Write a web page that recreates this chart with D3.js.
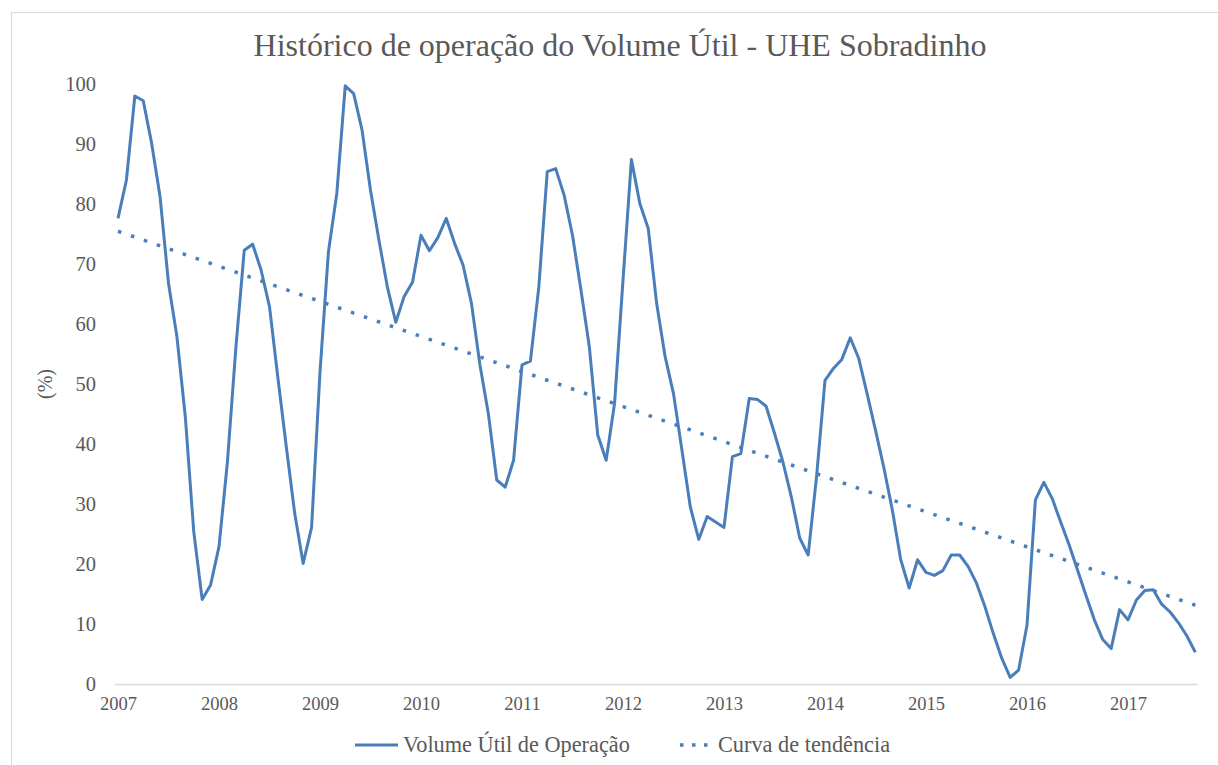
<!DOCTYPE html>
<html>
<head>
<meta charset="utf-8">
<script src="https://cdnjs.cloudflare.com/ajax/libs/d3/7.8.5/d3.min.js"></script>
<style>
body{margin:0;background:#fff;}
</style>
</head>
<body>
<div id="chart"></div>
<script>
// valores mensais jan/2007 .. set/2017 (%)
var startyear=2007;
var volume=[77.6,84,98,97.2,90.1,81.2,66.8,57.9,44.5,25.4,14.1,16.5,
	22.9,37,56,72.3,73.3,69,62.9,51,39.5,28.4,20.1,26.1,
	52,72,81.8,99.7,98.4,92.3,82.3,74,66.2,60.3,64.6,67,
	74.8,72.2,74.4,77.6,73.4,69.8,63.4,53.2,45.1,34,32.8,37.3,
	53.2,53.8,66.2,85.4,85.9,81.5,74.8,65.7,56.2,41.5,37.3,46.8,
	67.3,87.4,80.1,75.9,63.4,54.6,48.4,39,29.5,24.1,27.9,27,
	26.1,37.9,38.4,47.6,47.4,46.3,41.8,37,31.2,24.3,21.5,34.6,
	50.6,52.6,54.1,57.7,54.3,48.4,42.3,36,29,20.7,16,20.7,
	18.6,18.1,18.9,21.5,21.5,19.6,16.8,12.9,8.4,4.3,1.1,2.3,
	9.8,30.7,33.6,30.9,27,23.2,19,14.8,10.7,7.4,5.9,12.4,
	10.7,14,15.6,15.7,13.3,12,10.2,8,5.3];
var yearlabels=["2007","2008","2009","2010","2011","2012","2013","2014","2015","2016","2017"];
var yticks=[0,10,20,30,40,50,60,70,80,90,100];
var legendnames=["Volume Útil de Operação","Curva de tendência"];

var width=1218, height=765;
var linecolor="#4a7ebb";
var axiscolor="#d9d9d9";
var textcolor="#595959";
var fontname="'Liberation Serif','Times New Roman',serif";

var svg=d3.select("#chart").append("svg")
	.attr("width",width)
	.attr("height",height)
	.style("font-family",fontname);

// borda da área do gráfico
svg.append("rect")
	.attr("x",11.5).attr("y",12.5)
	.attr("width",1300).attr("height",900)
	.style("fill","none").style("stroke",axiscolor);

var n=volume.length;
var x=d3.scaleLinear().domain([0,120]).range([118,1128]);
var y=d3.scaleLinear().domain([0,100]).range([684,84]);

// tendência linear (mínimos quadrados)
var idx=d3.range(n);
var mx=d3.mean(idx), my=d3.mean(volume);
var sxy=d3.sum(idx,function(i){return (i-mx)*(volume[i]-my);});
var sxx=d3.sum(idx,function(i){return (i-mx)*(i-mx);});
var slope=sxy/sxx, icpt=my-slope*mx;
var trend=idx.map(function(i){return icpt+slope*i;});

svg.append("text")
	.attr("x",620).attr("y",56)
	.attr("text-anchor","middle")
	.style("font-family",fontname)
	.style("font-size","32px")
	.style("fill",textcolor)
	.text("Histórico de operação do Volume Útil - UHE Sobradinho");

// eixo x
svg.append("line")
	.attr("x1",115).attr("x2",1198)
	.attr("y1",y(0)+0.5).attr("y2",y(0)+0.5)
	.style("stroke",axiscolor).style("stroke-width",1.5);

var xaxis=svg.append("g")
	.attr("transform","translate(0,"+(y(0)+10)+")")
	.call(d3.axisBottom(x).tickValues(d3.range(0,121,12)).tickSize(0)
		.tickFormat(function(d,i){return yearlabels[i];}));
xaxis.attr("font-family",null);
xaxis.select(".domain").remove();
xaxis.selectAll("text").style("font-family",fontname).style("font-size","18.5px").style("fill",textcolor);

var yaxis=svg.append("g")
	.attr("transform","translate(97,0)")
	.call(d3.axisLeft(y).tickValues(yticks).tickSize(0).tickPadding(1));
yaxis.attr("font-family",null);
yaxis.select(".domain").remove();
yaxis.selectAll("text").style("font-family",fontname).style("font-size","20.5px").style("fill",textcolor);

svg.append("text")
	.attr("transform","translate(52,384) rotate(-90)")
	.attr("text-anchor","middle")
	.style("font-family",fontname)
	.style("font-size","20px")
	.style("fill",textcolor)
	.text("(%)");

var line=d3.line()
	.x(function(d,i){return x(i);})
	.y(function(d){return y(d);});

svg.append("path")
	.datum(trend)
	.attr("d",line)
	.style("fill","none")
	.style("stroke",linecolor)
	.style("stroke-width",3.5)
	.style("stroke-dasharray","3.5,10.2");

svg.append("path")
	.datum(volume)
	.attr("d",line)
	.style("fill","none")
	.style("stroke",linecolor)
	.style("stroke-width",3)
	.style("stroke-linejoin","round");

// legenda
var legend=svg.append("g").attr("transform","translate(0,745)");
legend.append("line")
	.attr("x1",355).attr("x2",398).attr("y1",0).attr("y2",0)
	.style("stroke",linecolor).style("stroke-width",3);
legend.append("text")
	.attr("x",403).attr("y",7)
	.style("font-family",fontname)
	.style("font-size","22.3px")
	.style("fill",textcolor)
	.text(legendnames[0]);
legend.append("line")
	.attr("x1",680).attr("x2",708).attr("y1",0).attr("y2",0)
	.style("stroke",linecolor).style("stroke-width",3.5)
	.style("stroke-dasharray","3.5,8.5");
legend.append("text")
	.attr("x",718).attr("y",7)
	.style("font-family",fontname)
	.style("font-size","22.3px")
	.style("fill",textcolor)
	.text(legendnames[1]);
</script>
</body>
</html>
